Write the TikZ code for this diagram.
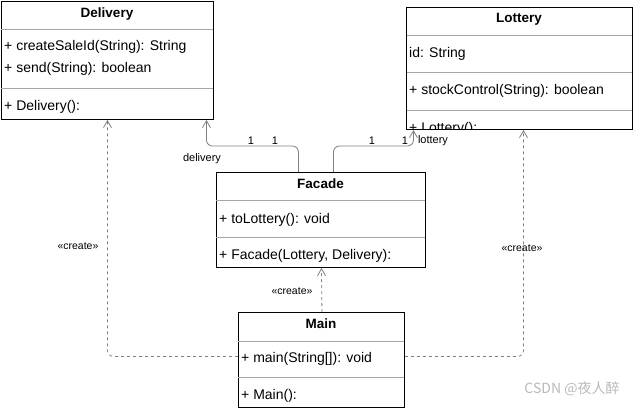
\documentclass[tikz,border=0pt]{standalone}
\usepackage{fontspec}
\setmainfont{Liberation Sans}
\newfontfamily\cjk{Noto Sans CJK SC}
\usetikzlibrary{arrows.meta,calc}
\begin{document}
\begin{tikzpicture}[x=1pt,y=-1pt,
  box/.style={draw=black,line width=0.9pt,fill=white,anchor=north west,inner sep=0pt,minimum width=#1},
  sep/.style={draw=gray!70,line width=0.7pt},
  title/.style={font=\bfseries\fontsize{13.5}{15}\selectfont,anchor=center,inner sep=0pt},
  row/.style={font=\fontsize{14}{16}\selectfont,anchor=west,inner sep=0pt},
  lbl/.style={font=\fontsize{11}{12}\selectfont,inner sep=0pt},
  crt/.style={font=\fontsize{10.5}{12}\selectfont,inner sep=0pt},
  assoc/.style={draw=gray,line width=0.8pt,rounded corners=6pt,-{Straight Barb[length=7pt,width=8pt]}},
  dep/.style={draw=gray,line width=0.8pt,dash pattern=on 3pt off 3pt,rounded corners=6pt,-{Straight Barb[length=7pt,width=8pt]}}
]
\useasboundingbox (0,0) rectangle (635,408);
% Delivery
\node[box=212pt,minimum height=118pt] (delivery) at (1,1) {};
\draw[sep] (1,29) -- (213,29);
\draw[sep] (1,88) -- (213,88);
\node[title] (dt) at (107,14) {Delivery};
\node[row] (d1) at (4,47) {+ createSaleId(String): String};
\node[row] (d2) at (4,69) {+ send(String): boolean};
\node[row] (d3) at (4,107) {+ Delivery():};
% Lottery
\node[box=226pt,minimum height=122pt] (lottery) at (406,7) {};
\draw[sep] (406,35) -- (632,35);
\draw[sep] (406,72) -- (632,72);
\draw[sep] (406,110) -- (632,110);
\node[title] (lt) at (519,19) {Lottery};
\node[row] (l1) at (409,54) {id: String};
\node[row] (l2) at (409,91) {+ stockControl(String): boolean};
\begin{scope}
\clip (406,110) rectangle (632,129);
\node[font=\fontsize{14}{16}\selectfont,anchor=base west,inner sep=0pt,text depth=0pt] (l3) at (409,132) {+ Lottery():};
\end{scope}
\draw[line width=0.9pt] (lottery.north west) rectangle (lottery.south east);
% Facade
\node[box=209pt,minimum height=95pt] (facade) at (216,172) {};
\draw[sep] (216,200) -- (425,200);
\draw[sep] (216,237) -- (425,237);
\node[title] (ft) at (320.5,184) {Facade};
\node[row] (f1) at (219,220) {+ toLottery(): void};
\node[row] (f2) at (219,256) {+ Facade(Lottery, Delivery):};
% Main
\node[box=166pt,minimum height=95pt] (main) at (238,312) {};
\draw[sep] (238,341) -- (404,341);
\draw[sep] (238,377) -- (404,377);
\node[title] (mt) at (321,324) {Main};
\node[row] (m1) at (241,359) {+ main(String[]): void};
\node[row] (m2) at (241,396) {+ Main():};
% associations
\draw[assoc] ([xshift=-22.5pt]facade.north) -- ++(0,-26) -| ([xshift=99pt]delivery.south);
\draw[assoc] ([xshift=12.5pt]facade.north) -- ++(0,-26) -| ([xshift=-106pt]lottery.south);
\node[lbl] (a1) at (251,141) {1};
\node[lbl] (a2) at (275,141) {1};
\node[lbl] (a3) at (202,159) {delivery};
\node[lbl] (b1) at (372,141) {1};
\node[lbl] (b2) at (405,141) {1};
\node[lbl] (b3) at (433,141) {lottery};
% dependencies
\draw[dep] ([yshift=3.5pt]main.west) -| (delivery.south);
\draw[dep] ([yshift=3.5pt]main.east) -| ([xshift=4pt]lottery.south);
\draw[dep] ([xshift=0.5pt]main.north) -- ([xshift=0.5pt]facade.south);
\node[crt] (c1) at (78,246) {«create»};
\node[crt] (c2) at (292,291) {«create»};
\node[crt] (c3) at (522,248) {«create»};
% watermark
\node[font=\cjk\fontsize{14}{16}\selectfont,text=gray!55,inner sep=0pt] (wm) at (572,389) {CSDN @夜人醉};
\end{tikzpicture}
\end{document}
